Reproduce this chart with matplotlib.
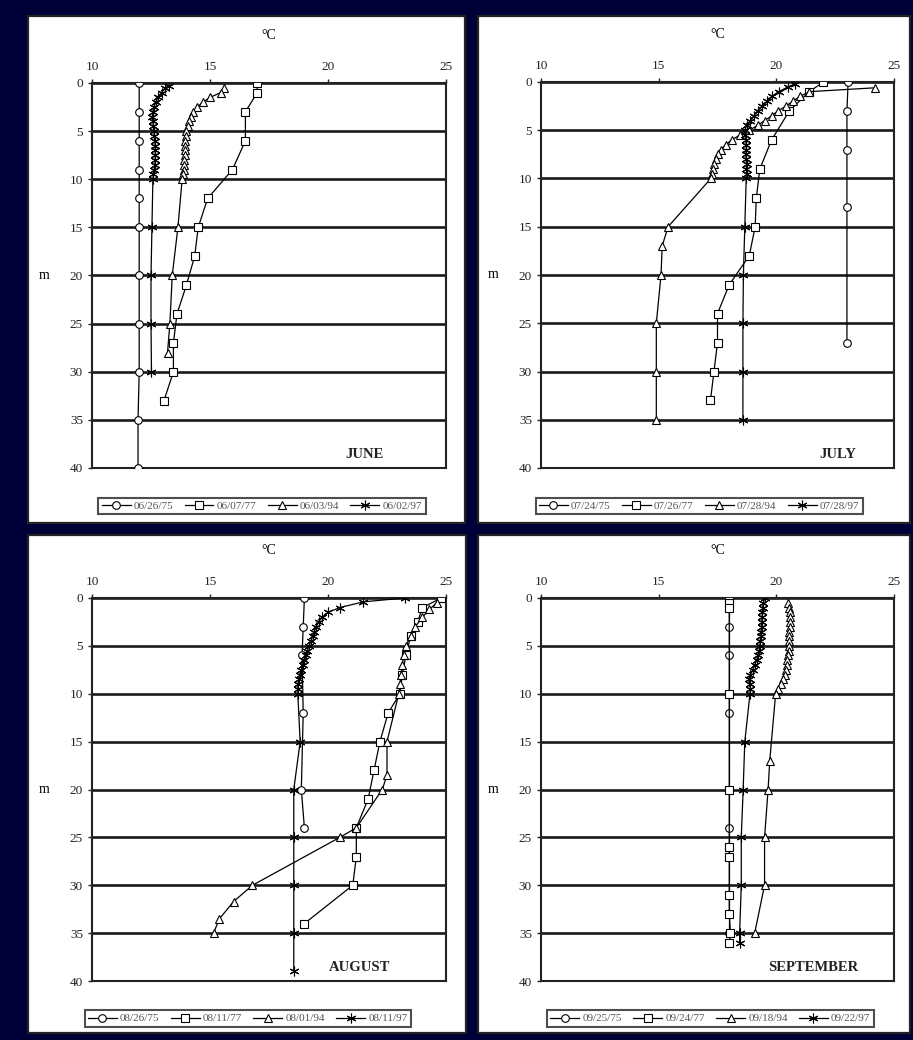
import matplotlib
matplotlib.use("Agg")
import matplotlib.pyplot as plt
from matplotlib.patches import Rectangle

plt.rcParams['font.family'] = ['Liberation Serif', 'DejaVu Serif']

W, H = 913, 1040
NAVY = '#000038'

# ---- data: depth (m) and temperature (degC) per profile ----
half = [0, 0.5, 1, 1.5, 2, 2.5, 3, 3.5, 4, 4.5, 5, 5.5, 6, 6.5, 7, 7.5, 8, 8.5, 9, 9.5, 10]

# JUNE
jun_labels = ['06/26/75', '06/07/77', '06/03/94', '06/02/97']
jun_d75 = [0, 3, 6, 9, 12, 15, 20, 25, 30, 35, 40]
jun_t75 = [12.0, 12.0, 12.0, 12.0, 12.0, 12.0, 12.0, 12.0, 12.0, 11.95, 11.95]
jun_d77 = [0, 1, 3, 6, 9, 12, 15, 18, 21, 24, 27, 30, 33]
jun_t77 = [17.0, 17.0, 16.5, 16.5, 15.95, 14.9, 14.5, 14.35, 14.0, 13.6, 13.45, 13.45, 13.05]
jun_d94 = half[1:] + [15, 20, 25, 28]
jun_t94 = [15.6, 15.45, 15.0, 14.7, 14.45, 14.3, 14.2, 14.1, 14.05, 14.0, 13.97, 13.95, 13.93,
           13.92, 13.92, 13.9, 13.9, 13.88, 13.85, 13.82, 13.64, 13.4, 13.3, 13.2]
jun_d97 = [0.3] + half[1:] + [15, 20, 25, 30]
jun_t97 = [13.25, 13.1, 12.95, 12.8, 12.7, 12.62, 12.58, 12.56, 12.58, 12.6, 12.62, 12.64, 12.66,
           12.68, 12.68, 12.68, 12.68, 12.66, 12.64, 12.6, 12.58, 12.54, 12.5, 12.5, 12.52]

# JULY
jul_labels = ['07/24/75', '07/26/77', '07/28/94', '07/28/97']
jul_d75 = [0, 3, 7, 13, 27]
jul_t75 = [23.05, 23.0, 23.0, 23.0, 23.0]
jul_d77 = [0, 1, 3, 6, 9, 12, 15, 18, 21, 24, 27, 30, 33]
jul_t77 = [22.0, 21.4, 20.55, 19.8, 19.3, 19.15, 19.1, 18.85, 18.0, 17.5, 17.5, 17.35, 17.2]
jul_d94 = [0.6] + half[2:] + [15, 17, 20, 25, 30, 35]
jul_t94 = [24.2, 21.4, 21.0, 20.7, 20.4, 20.07, 19.8, 19.5, 19.2, 18.85, 18.45, 18.1, 17.85,
           17.65, 17.5, 17.42, 17.36, 17.3, 17.27, 17.22, 15.4, 15.15, 15.1, 14.9, 14.9, 14.9]
jul_d97 = [0.2] + half[1:] + [15, 20, 25, 30, 35]
jul_t97 = [20.8, 20.5, 20.1, 19.8, 19.6, 19.4, 19.2, 19.05, 18.9, 18.75, 18.65, 18.68, 18.7,
           18.72, 18.72, 18.7, 18.72, 18.74, 18.72, 18.74, 18.72, 18.66, 18.6, 18.58, 18.58, 18.58]

# AUGUST
aug_labels = ['08/26/75', '08/11/77', '08/01/94', '08/11/97']
aug_d75 = [0, 3, 6, 12, 20, 24]
aug_t75 = [19.0, 18.95, 18.9, 18.95, 18.87, 19.0]
aug_d77 = [0, 1, 2.5, 4, 6, 8, 10, 12, 15, 18, 21, 24, 27, 30, 34]
aug_t77 = [24.8, 24.0, 23.8, 23.5, 23.3, 23.15, 23.05, 22.55, 22.2, 21.95, 21.7, 21.2, 21.2, 21.05, 19.0]
aug_d94 = [0.5, 1.2, 2, 3, 4, 5, 6, 7, 8, 9, 10, 15, 18.5, 20, 24, 25, 30, 31.7, 33.5, 35]
aug_t94 = [24.6, 24.3, 24.0, 23.7, 23.5, 23.3, 23.2, 23.15, 23.1, 23.05, 23.0, 22.5, 22.5, 22.3,
           21.2, 20.5, 16.8, 16.0, 15.4, 15.15]
aug_d97 = [0, 0.4] + half[2:] + [15, 20, 25, 30, 35, 39]
aug_t97 = [23.25, 21.5, 20.5, 20.0, 19.75, 19.6, 19.5, 19.42, 19.35, 19.28, 19.2, 19.12, 19.05,
           18.98, 18.92, 18.86, 18.8, 18.76, 18.73, 18.72, 18.72, 18.82, 18.55, 18.55, 18.55, 18.55, 18.55]

# SEPTEMBER
sep_labels = ['09/25/75', '09/24/77', '09/18/94', '09/22/97']
sep_d75 = [0, 3, 6, 12, 24, 35]
sep_t75 = [18.0, 18.0, 18.0, 18.0, 18.0, 18.0]
sep_d77 = [0, 0.5, 1, 10, 20, 26, 27, 31, 33, 35, 36]
sep_t77 = [18.0, 18.0, 18.0, 18.0, 18.0, 18.0, 18.0, 18.0, 18.0, 18.05, 18.0]
sep_d94 = half[1:] + [17, 20, 25, 30, 35]
sep_t94 = [20.5, 20.55, 20.58, 20.58, 20.58, 20.57, 20.55, 20.53, 20.52, 20.52, 20.52, 20.5, 20.47,
           20.45, 20.42, 20.38, 20.3, 20.2, 20.08, 19.97, 19.72, 19.65, 19.5, 19.5, 19.08]
sep_d97 = half + [15, 20, 25, 30, 35, 36]
sep_t97 = [19.5, 19.45, 19.42, 19.4, 19.4, 19.38, 19.37, 19.35, 19.33, 19.32, 19.3, 19.27, 19.22,
           19.16, 19.08, 19.0, 18.9, 18.82, 18.86, 18.9, 18.88, 18.66, 18.59, 18.51, 18.51, 18.44, 18.44]

xticks = [10, 15, 20, 25]
yticks = [0, 5, 10, 15, 20, 25, 30, 35, 40]

panels = [
    ('JUNE', jun_labels, [(jun_d75, jun_t75), (jun_d77, jun_t77), (jun_d94, jun_t94), (jun_d97, jun_t97)]),
    ('JULY', jul_labels, [(jul_d75, jul_t75), (jul_d77, jul_t77), (jul_d94, jul_t94), (jul_d97, jul_t97)]),
    ('AUGUST', aug_labels, [(aug_d75, aug_t75), (aug_d77, aug_t77), (aug_d94, aug_t94), (aug_d97, aug_t97)]),
    ('SEPTEMBER', sep_labels, [(sep_d75, sep_t75), (sep_d77, sep_t77), (sep_d94, sep_t94), (sep_d97, sep_t97)]),
]

# layout in pixels: white frame box, axes box, month label x, legend centre x (axes fraction)
frames = [(28, 16, 465, 523), (478, 16, 910, 523), (28, 535, 466, 1033), (478, 535, 910, 1033)]
axboxes = [(92, 83, 446, 468), (541, 82, 894, 468), (92, 598, 446, 981), (541, 598, 894, 981)]
month_x = [0.77, 0.84, 0.757, 0.77]
leg_x = [0.48, 0.448, 0.44, 0.48]
markers = ['o', 's', '^', (6, 2, 0)]

fig = plt.figure(figsize=(W / 100, H / 100), dpi=100, facecolor=NAVY)

for (x0, y0, x1, y1) in frames:
    fig.patches.append(Rectangle((x0 / W, 1 - y1 / H), (x1 - x0) / W, (y1 - y0) / H,
                                 transform=fig.transFigure, facecolor='white',
                                 edgecolor='#222222', linewidth=1.6, zorder=-10))

for i, (month, labels, series) in enumerate(panels):
    x0, y0, x1, y1 = axboxes[i]
    ax = fig.add_axes([x0 / W, 1 - y1 / H, (x1 - x0) / W, (y1 - y0) / H])
    ax.set_zorder(1)
    ax.set_facecolor('none')
    for (d, t), lab, mk in zip(series, labels, markers):
        ms = 7 if mk == (6, 2, 0) else 5.5
        ax.plot(t, d, color='black', linewidth=0.9, marker=mk, markersize=ms,
                markerfacecolor='white', markeredgecolor='black', markeredgewidth=0.8,
                label=lab, zorder=3)
    ax.set_xlim(10, 25)
    ax.set_ylim(40, 0)
    ax.xaxis.tick_top()
    ax.set_xticks(xticks)
    ax.set_yticks(yticks)
    ax.tick_params(axis='both', direction='out', length=3, width=1, labelsize=9.5, colors='#222222')
    ax.tick_params(axis='x', pad=4)
    ax.grid(axis='y', color='#1a1a1a', linewidth=1.9)
    ax.set_axisbelow(True)
    for sp in ax.spines.values():
        sp.set_linewidth(1.5)
        sp.set_color('#222222')
    ax.set_xlabel('°C', fontsize=10)
    ax.xaxis.set_label_position('top')
    ax.xaxis.set_label_coords(0.5, 1.115)
    ax.set_ylabel('m', rotation=0, fontsize=10, va='center')
    ax.yaxis.set_label_coords(-0.135, 0.5)
    ax.text(month_x[i], 0.036, month, transform=ax.transAxes, ha='center', va='center',
            fontsize=10.5, fontweight='bold', color='#222222')
    leg = ax.legend(loc='center', bbox_to_anchor=(leg_x[i], -0.098), ncol=4, fontsize=8,
                    frameon=True, fancybox=False, edgecolor='#222222', handlelength=2.6,
                    handletextpad=0.3, columnspacing=1.0, borderpad=0.3, borderaxespad=0)
    leg.get_frame().set_linewidth(1.5)
    for txt in leg.get_texts():
        txt.set_color('#555555')

fig.savefig('out.png', dpi=100, facecolor=NAVY)
